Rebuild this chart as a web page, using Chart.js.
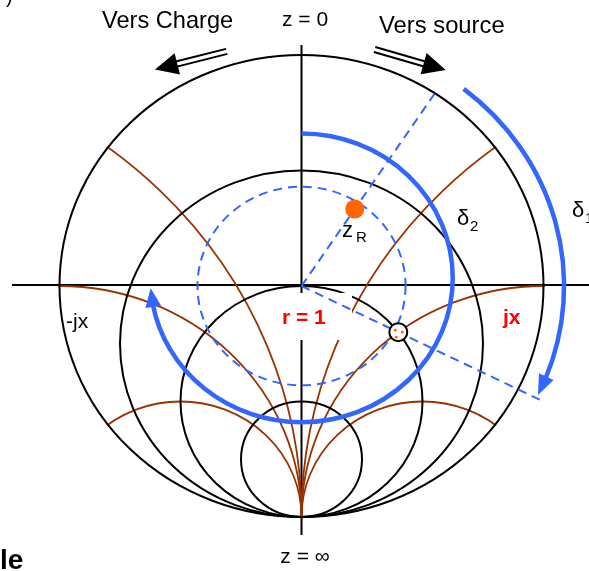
<!DOCTYPE html>
<html>
<head>
<meta charset="utf-8">
<script src="https://cdn.jsdelivr.net/npm/chart.js@4.4.0/dist/chart.umd.min.js"></script>
<style>
  html, body { margin: 0; padding: 0; background: #fff; }
  canvas { display: block; }
</style>
</head>
<body>
<canvas id="smith" width="589" height="571"></canvas>
<script>
// Smith chart turned a quarter: z = 0 on top, z = ∞ at the bottom.
// Plot plane: x = Im(Γ) (jx to the right), y = -Re(Γ).
const resistanceCircles = [1 / 3, 1, 3];
const reactanceArcs = [0.5, 1, 2];
const loadGamma = { re: -0.333, im: 0.220 };   // z_R
const matchedZ = { r: 1, x: 1 };               // point on the r = 1 circle
const swrRadius = 0.43;                        // dashed |Γ| circle
const delta2Radius = 0.625;                    // inner rotation arc (δ2)
const delta1Radius = 1.085;                    // outer rotation arc (δ1)

const BROWN = '#993300';
const BLUE = '#3366ff';
const ORANGE = '#ff6600';

// Γ of an impedance
function gammaOf(z) {
    const dr = (z.r + 1) * (z.r + 1) + z.x * z.x;
    return { re: (z.r * z.r + z.x * z.x - 1) / dr, im: 2 * z.x / dr };
}
const matchGamma = gammaOf(matchedZ);
const loadMag = Math.hypot(loadGamma.re, loadGamma.im);

function ellipsePath(chart, cx, cy, r, a0, a1) {
    const sx = chart.scales.x, sy = chart.scales.y;
    const px = sx.getPixelForValue(cx), py = sy.getPixelForValue(cy);
    const rx = Math.abs(sx.getPixelForValue(cx + r) - px);
    const ry = Math.abs(sy.getPixelForValue(cy + r) - py);
    chart.ctx.ellipse(px, py, rx, ry, 0, a0 === undefined ? 0 : a0, a1 === undefined ? Math.PI * 2 : a1);
    return { px, py, rx, ry };
}

function arcArrow(ctx, e, aBase, aTip, halfW) {
    const bx = e.px + e.rx * Math.cos(aBase), by = e.py + e.ry * Math.sin(aBase);
    const tx = e.px + e.rx * Math.cos(aTip), ty = e.py + e.ry * Math.sin(aTip);
    const len = Math.hypot(tx - bx, ty - by);
    const nx = -(ty - by) / len, ny = (tx - bx) / len;
    ctx.beginPath();
    ctx.moveTo(tx, ty);
    ctx.lineTo(bx + nx * halfW, by + ny * halfW);
    ctx.lineTo(bx - nx * halfW, by - ny * halfW);
    ctx.closePath();
    ctx.fill();
}

// black double-shaft arrow ("Vers ...")
function doubleArrow(ctx, tip, dir) {
    const ux = dir[0], uy = dir[1];
    const nx = -uy, ny = ux;
    const head = 23, half = 11, total = 74;
    ctx.fillStyle = '#000';
    ctx.beginPath();
    ctx.moveTo(tip[0], tip[1]);
    ctx.lineTo(tip[0] + ux * head + nx * half, tip[1] + uy * head + ny * half);
    ctx.lineTo(tip[0] + ux * head - nx * half, tip[1] + uy * head - ny * half);
    ctx.closePath();
    ctx.fill();
    ctx.strokeStyle = '#000';
    ctx.lineWidth = 2;
    [-2.6, 2.6].forEach(off => {
        ctx.beginPath();
        ctx.moveTo(tip[0] + ux * (head - 2) + nx * off, tip[1] + uy * (head - 2) + ny * off);
        ctx.lineTo(tip[0] + ux * total + nx * off, tip[1] + uy * total + ny * off);
        ctx.stroke();
    });
}

const gridPlugin = {
    id: 'smithGrid',
    beforeDatasetsDraw(chart) {
        const ctx = chart.ctx;
        const sx = chart.scales.x, sy = chart.scales.y;
        ctx.save();

        // axes through the centre
        ctx.strokeStyle = '#000';
        ctx.lineWidth = 2;
        ctx.beginPath();
        ctx.moveTo(sx.getPixelForValue(-1.196), sy.getPixelForValue(0.004));
        ctx.lineTo(sx.getPixelForValue(1.19), sy.getPixelForValue(0.004));
        ctx.moveTo(sx.getPixelForValue(0), sy.getPixelForValue(1.043));
        ctx.lineTo(sx.getPixelForValue(0), sy.getPixelForValue(-1.078));
        ctx.stroke();

        // constant reactance arcs, clipped to |Γ| = 1
        ctx.save();
        ctx.beginPath();
        ellipsePath(chart, 0, 0, 1.006);
        ctx.clip();
        ctx.strokeStyle = BROWN;
        ctx.lineWidth = 1.8;
        reactanceArcs.forEach(x => {
            [1, -1].forEach(s => {
                ctx.beginPath();
                ellipsePath(chart, s / x, -1, 1 / x);
                ctx.stroke();
            });
        });
        ctx.restore();

        // unit circle and constant resistance circles
        ctx.strokeStyle = '#000';
        ctx.lineWidth = 2;
        ctx.beginPath();
        ellipsePath(chart, 0, 0, 1);
        ctx.stroke();
        resistanceCircles.forEach(r => {
            ctx.beginPath();
            ellipsePath(chart, 0, -r / (1 + r), 1 / (1 + r));
            ctx.stroke();
        });

        // white box behind the "r = 1" label
        ctx.fillStyle = '#fff';
        ctx.fillRect(272, 293, 80, 47);

        // dashed |Γ| circle
        ctx.strokeStyle = BLUE;
        ctx.lineWidth = 2;
        ctx.setLineDash([9, 6]);
        ctx.beginPath();
        ellipsePath(chart, 0, 0, swrRadius);
        ctx.stroke();
        ctx.setLineDash([]);

        // δ2 arc with its arrow
        ctx.lineWidth = 4.5;
        ctx.fillStyle = BLUE;
        ctx.beginPath();
        let e = ellipsePath(chart, 0, 0.035, delta2Radius, -Math.PI / 2, 2.96);
        ctx.stroke();
        arcArrow(ctx, e, 2.94, 3.07, 8);

        // δ1 arc with its arrow
        ctx.beginPath();
        e = ellipsePath(chart, 0, 0, delta1Radius, -0.905, 0.38);
        ctx.stroke();
        arcArrow(ctx, e, 0.37, 0.45, 8);

        ctx.restore();
    },
    afterDatasetsDraw(chart) {
        const ctx = chart.ctx;
        const sx = chart.scales.x, sy = chart.scales.y;
        ctx.save();

        // dotted marks inside the matched point
        const mx = sx.getPixelForValue(matchGamma.im), my = sy.getPixelForValue(-matchGamma.re);
        ctx.fillStyle = ORANGE;
        [[-3, -2], [4, 0], [-2, 5]].forEach(d => {
            ctx.beginPath();
            ctx.arc(mx + d[0], my + d[1], 1.4, 0, Math.PI * 2);
            ctx.fill();
        });

        doubleArrow(ctx, [155, 69.5], [0.97, -0.245]);
        doubleArrow(ctx, [445.7, 70], [-0.961, -0.276]);

        const font = 'Liberation Sans, Arial, sans-serif';
        function text(str, x, y, size, opts) {
            opts = opts || {};
            ctx.font = (opts.bold ? 'bold ' : '') + size + 'px ' + font;
            ctx.fillStyle = opts.color || '#000';
            ctx.textAlign = opts.align || 'left';
            ctx.textBaseline = 'alphabetic';
            ctx.fillText(str, x, y);
        }
        text('Vers Charge', 102, 28, 23.6);
        text('z = 0', 305, 26, 21, { align: 'center' });
        text('Vers source', 379, 33, 23.8);
        text('δ', 457, 225, 22);
        text('2', 470, 231, 15);
        text('δ', 572, 217, 22);
        text('1', 585, 223, 15);
        text('z', 342, 237, 22);
        text('R', 356, 242, 15);
        text('-jx', 66, 328, 21);
        text('r = 1', 282, 324, 21, { bold: true, color: '#ff0000' });
        text('jx', 503, 324, 21, { bold: true, color: '#ff0000' });
        text('z = ∞', 305, 563, 21, { align: 'center' });
        text('le', 0, 569, 28, { bold: true });
        text(')', 6, 3, 20);
        ctx.restore();
    }
};

new Chart(document.getElementById('smith'), {
    type: 'scatter',
    data: {
        datasets: [
            {
                // z_R
                data: [{ x: loadGamma.im, y: -loadGamma.re }],
                pointRadius: 9.5,
                pointBackgroundColor: ORANGE,
                pointBorderColor: ORANGE,
                pointBorderWidth: 0
            },
            {
                // point where r = 1 is reached
                data: [{ x: matchGamma.im, y: -matchGamma.re }],
                pointRadius: 9,
                pointBackgroundColor: '#fff',
                pointBorderColor: '#000',
                pointBorderWidth: 2
            },
            {
                // radius through z_R up to the rim
                data: [{ x: 0, y: 0 }, { x: loadGamma.im / loadMag, y: -loadGamma.re / loadMag }],
                showLine: true,
                borderColor: BLUE,
                borderWidth: 2,
                borderDash: [9, 6],
                pointRadius: 0
            },
            {
                // radius through the matched point
                data: [{ x: 0, y: 0 }, { x: matchGamma.im * 2.46, y: -matchGamma.re * 2.46 }],
                showLine: true,
                borderColor: BLUE,
                borderWidth: 2,
                borderDash: [9, 6],
                pointRadius: 0
            }
        ]
    },
    options: {
        responsive: false,
        animation: false,
        layout: { padding: 0, autoPadding: false },
        plugins: { legend: { display: false }, tooltip: { enabled: false } },
        scales: {
            x: { type: 'linear', min: -1.2459, max: 1.188, display: false },
            y: { type: 'linear', min: -1.2338, max: 1.2381, display: false }
        }
    },
    plugins: [gridPlugin]
});
</script>
</body>
</html>
